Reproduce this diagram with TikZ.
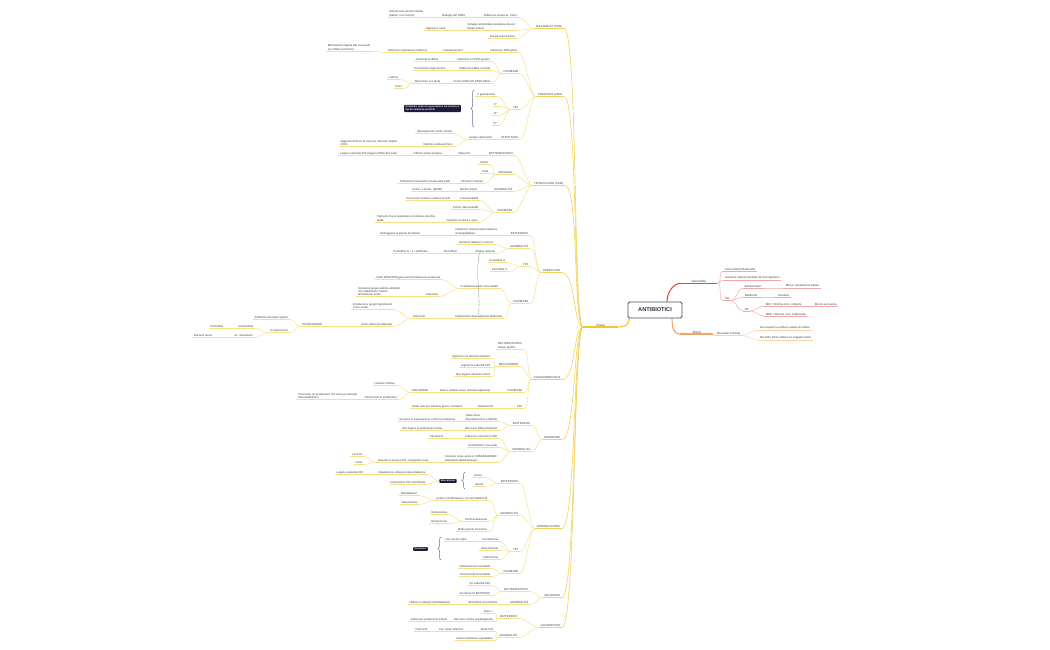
\documentclass[tikz,border=0pt]{standalone}
\usepackage{fontspec}
\setmainfont{Liberation Sans}
\usetikzlibrary{decorations.pathreplacing}
\definecolor{ylw}{HTML}{F6DF86}
\definecolor{ylwm}{HTML}{F3D25A}
\definecolor{ylwc}{HTML}{F2C62E}
\definecolor{txt}{HTML}{3A3A3A}
\definecolor{redm}{HTML}{E84545}
\definecolor{redl}{HTML}{F5A5A5}
\definecolor{orm}{HTML}{F2A65A}
\definecolor{orl}{HTML}{F9D2A6}
\definecolor{navy}{HTML}{1B1B3A}
\definecolor{bracec}{HTML}{6B6F8C}
\definecolor{rootc}{HTML}{4A4A60}
\definecolor{roott}{HTML}{2E2E48}
\newcommand\mmfs{\fontsize{2.8}{3.3}\selectfont}
\tikzset{
  ltxt/.style={inner xsep=1.6pt, inner ysep=0.6pt, font=\mmfs, text=txt, align=left},
  yl/.style={draw=ylw, line width=0.45pt},
  cl/.style={draw=ylwm, line width=0.6pt},
  rl/.style={draw=redl, line width=0.45pt},
  ol/.style={draw=orl, line width=0.45pt},
  callout/.style={fill=navy, rounded corners=0.8pt, text=white, font=\fontsize{2.4}{2.9}\selectfont\bfseries, inner xsep=1.5pt, inner ysep=1pt, align=left},
  bracest/.style={draw=bracec, line width=0.5pt, decorate, decoration={brace, amplitude=3pt}},
  rel/.style={draw=bracec, line width=0.45pt, dash pattern=on 1pt off 0.8pt},
  rootbox/.style={draw=rootc, line width=0.8pt, rounded corners=1.5pt, fill=white, minimum width=54pt, minimum height=16pt, inner sep=0pt, font=\fontsize{5.6}{6}\selectfont\bfseries, text=roott},
  mainlbl/.style={ltxt, font=\fontsize{3.1}{3.7}\selectfont, align=center}
}
% left node: name, parent, right end x, underline y, text
\newcommand\mmL[5]{%
  \node[ltxt,anchor=south east] (#1) at (#3,#4) {#5};
  \draw[yl] (#1.south west) -- (#1.south east);
  \draw[yl] (#2.south west) .. controls +(-6,0) and +(6,0) .. (#1.south east);}
% category node: name, right end x, underline y, text
\newcommand\mmC[4]{%
  \node[ltxt,anchor=south east] (#1) at (#2,#3) {#4};
  \draw[cl] (#1.south west) -- (#1.south east);
  \draw[cl] (classi.south west) .. controls +(-10,0) and +(14,0) .. (#1.south east);}
% right node: line style, name, parent, left x, underline y, text
\newcommand\mmR[6]{%
  \node[ltxt,anchor=south west] (#2) at (#4,#5) {#6};
  \draw[#1] (#2.south west) -- (#2.south east);
  \draw[#1] (#3.south east) .. controls +(5,0) and +(-5,0) .. (#2.south west);}
\begin{document}
\begin{tikzpicture}[x=1pt,y=-1pt]
\fill[white] (0,0) rectangle (1050,650);
\useasboundingbox (0,0) rectangle (1050,650);

% root and main branches
\node[rootbox] (root) at (655,310) {ANTIBIOTICI};
\node[mainlbl, anchor=south west, minimum width=35pt] (classi) at (583,327) {Classi};
\draw[ylwc, line width=1.1pt] (classi.south west) -- (classi.south east);
\draw[ylwc, line width=1.1pt] ([xshift=1.5pt]root.south west) .. controls +(0,7) and +(6,0) .. (classi.south east);

\node[mainlbl, anchor=south west, minimum width=37pt] (gen) at (680,283.5) {Generalità};
\draw[redm, line width=1.1pt] (gen.south west) -- (gen.south east);
\draw[redm, line width=1.1pt] ([xshift=12pt]root.north) .. controls +(0,-10) and +(-6,0) .. (gen.south west);

\node[mainlbl, anchor=south west, minimum width=33pt] (storia) at (680,334) {Storia};
\draw[orm, line width=1.1pt] (storia.south west) -- (storia.south east);
\draw[orm, line width=1.1pt] ([xshift=17pt]root.south) .. controls +(0,10) and +(-6,0) .. (storia.south west);

% Generalita
\mmR{rl}{g1}{gen}{723}{271}{Cura infezioni Batteriche}
\mmR{rl}{g2}{gen}{723}{280}{Sostanze naturali prodotte da microrganismi}
\mmR{rl}{g3}{gen}{723}{300.5}{Tipi}
\mmR{rl}{g3a}{g3}{743}{288}{Batteriostatici}
\mmR{rl}{g3a1}{g3a}{784}{288}{Blocco riproduzione batteri}
\mmR{rl}{g3b}{g3}{743}{297}{Battericidi}
\mmR{rl}{g3b1}{g3b}{776}{297}{Uccidono}
\mmR{rl}{g3c}{g3}{743}{311}{Nb}
\mmR{rl}{g3c1}{g3c}{764}{306}{MIC = Minima conc. inibente}
\mmR{rl}{g3c1a}{g3c1}{813}{306}{Blocca la crescita}
\mmR{rl}{g3c2}{g3c}{764}{316}{MBC = Minima conc. battericida}

% Storia
\mmR{ol}{fl}{storia}{715}{335.5}{Alexander Fleming}
\mmR{ol}{s1}{fl}{758}{330}{Ha scoperto la muffa in piastre di colture}
\mmR{ol}{s2}{fl}{758}{340}{Nel 1941 Primo utilizzo su soggetti umani}

% ---- Cat 1
\mmC{c1}{564}{28.5}{SULFAMIDICI (1935)}
\mmL{c1a}{c1}{519}{17.5}{Inibiscono sintesi ac. folico}
\mmL{c1a1}{c1a}{467}{17.5}{Analoghi del PABA}
\mmL{c1a1a}{c1a1}{425}{17.5}{Sintetizzano da soli il folato\\(batteri, non l'uomo)}
\mmL{c1b}{c1}{517}{30.5}{Sviluppo ambientale resistenza da uso\\troppo esteso}
\mmL{c1b1}{c1b}{447}{30.5}{Oggi poco usati}
\mmL{c1c}{c1}{517}{38.5}{Durata azione breve}

% ---- Cat 2
\mmC{c2}{564}{96.5}{CHINOLONI (1962)}
\mmL{c2a}{c2}{519}{52.5}{Inibiscono DNA girasi}
\mmL{c2a1}{c2a}{465}{52.5}{topoisomerasi II}
\mmL{c2a1a}{c2a1}{429}{52.5}{Inibizione replicazione batterica}
\mmL{c2a1a1}{c2a1a}{372}{51.5}{Eliminazione legata alla via renale\\(no effetto sull'uomo)}
\mmL{c2b}{c2}{520}{73.5}{PROBLEMI}
\mmL{c2b1}{c2b}{492}{61.5}{Inibizione CYP450 epatico}
\mmL{c2b1a}{c2b1}{440}{61.5}{Aumenta teofillina}
\mmL{c2b2}{c2b}{492}{70.5}{Inibizione GABA centrale}
\mmL{c2b2a}{c2b2}{447}{70.5}{Convulsioni negli anziani}
\mmL{c2b3}{c2b}{492}{83.5}{Forme CHELATI INSOLUBILI}
\mmL{c2b3a}{c2b3}{442}{83.5}{Attenzione con dieta}
\mmL{c2b3a1}{c2b3a}{400}{79.5}{Latticini}
\mmL{c2b3a2}{c2b3a}{404}{88.5}{Ferro}
\mmL{c2c}{c2}{520}{109.5}{TIPI}
\mmL{c2c1}{c2c}{497}{96.5}{I° generazione}
\mmL{c2c2}{c2c}{499}{106.5}{II°}
\mmL{c2c3}{c2c}{499}{115.5}{III°}
\mmL{c2c4}{c2c}{499}{125.5}{IV°}
\draw[bracest] (474,127) -- (474,90);
\node[callout] (cb1) at (432.5,108.5) {Antibiotici usati con generazione successiva ai\\tipi di resistenza possibili};
\mmL{c2d}{c2}{520}{139.5}{STRUTTURA}
\mmL{c2d1}{c2d}{494}{139.5}{Gruppi carbossilici}
\mmL{c2d1a}{c2d1}{454}{133.5}{Spiazzamento COO- (acido)}
\mmL{c2d1b}{c2d1}{455}{146.5}{Cambio sostituenti funz.}
\mmL{c2d1b1}{c2d1b}{399}{146.5}{Aggiunta di fluoro al ciclo per ottenere migliori\\COO-}

% ---- Cat 3
\mmC{c3}{565}{185.5}{TETRACICLINE (1948)}
\mmL{c3a}{c3}{515}{155.5}{BATTERIOSTATICI}
\mmL{c3a1}{c3a}{472}{155.5}{Ribosomi}
\mmL{c3a2}{c3a1}{444}{155.5}{Inibitori sintesi proteica}
\mmL{c3a3}{c3a2}{399}{155.5}{Legano subunità 30S (legame tRNA bloccato)}
\mmL{c3b}{c3}{514}{174.5}{VANTAGGI}
\mmL{c3b1}{c3b}{490}{164.5}{Ampio}
\mmL{c3b2}{c3b}{490}{173.5}{Orali}
\mmL{c3b3}{c3b}{485}{183.5}{Infezioni Cutanee}
\mmL{c3b3a}{c3b3}{452}{183.5}{Trattamento tetracicline locale nella pelle}
\mmL{c3c}{c3}{514}{191.5}{GENERALITÀ}
\mmL{c3c1}{c3c}{479}{191.5}{Spettro ampio}
\mmL{c3c1a}{c3c1}{444}{191.5}{Gram+ e Gram- (BASE)}
\mmL{c3d}{c3}{514}{212.5}{PROBLEMI}
\mmL{c3d1}{c3d}{480}{200.5}{Fotosensibilità}
\mmL{c3d1a}{c3d1}{452}{200.5}{Provocano reazioni cutanee al sole}
\mmL{c3d2}{c3d}{480}{209.5}{Forme Sali insolubili}
\mmL{c3d3}{c3d}{479}{222.5}{Deposito su denti e ossa}
\mmL{c3d3a}{c3d3}{437}{222.5}{Pigmenti che si depositano e formano macchie\\gialle}

% ---- Cat 4
\mmC{c4}{562}{272.5}{PENICILLINE}
\mmL{c4a}{c4}{530}{235.5}{BATTERICIDI}
\mmL{c4a1}{c4a}{499}{235.5}{Inibiscono sintesi parete batterica\\(transpeptidasi)}
\mmL{c4a1a}{c4a1}{422}{235.5}{Distruggono la parete dei batteri}
\mmL{c4b}{c4}{530}{248.5}{GENERALITÀ}
\mmL{c4b1}{c4b}{495}{244.5}{Nucleo β-lattamico comune}
\mmL{c4b2}{c4b}{497}{253.5}{Origine naturale}
\mmL{c4b2a}{c4b2}{459}{253.5}{Penicillium}
\mmL{c4b2a1}{c4b2a}{430}{253.5}{Penicillina G = 1° antibiotico}
\mmL{c4c}{c4}{530}{266.5}{TIPI}
\mmL{c4c1}{c4c}{507}{262.5}{Penicillina G}
\mmL{c4c2}{c4c}{509}{271.5}{Penicillina V}
\mmL{c4d}{c4}{530}{303.5}{PROBLEMI}
\mmL{c4d1}{c4d}{500}{288.5}{In ambiente acido sono inattivi}
\mmL{c4d1a}{c4d1}{442}{279.5}{Nelle INFEZIONI gravi somministrazione endovena}
\mmL{c4d1b}{c4d1}{440}{296.5}{Soluzione}
\mmL{c4d1b1}{c4d1b}{402}{296.5}{Introdurre gruppi elettron-attrattori\\che stabilizzano l'anello\\all'ambiente acido}
\mmL{c4d2}{c4d}{504}{318.5}{Inattivazione da β-lattamasi batteriche}
\mmL{c4d2a}{c4d2}{427}{318.5}{Soluzione}
\mmL{c4d2a1}{c4d2a}{394}{309.5}{Introduzione gruppi ingombranti\\come scudo}
\mmL{c4d2a2}{c4d2a}{394}{326.5}{Unire inibitori β-lattamasi}
\mmL{c4d2a2a}{c4d2a2}{324}{326.5}{ASSOCIAZIONI}
\mmL{c4d2a2a1}{c4d2a2a}{290}{319.5}{Antibiotici ad ampio spettro}
\mmL{c4d2a2a2}{c4d2a2a}{290}{332.5}{Composizione}
\mmL{c4d2a2a2a}{c4d2a2a2}{255}{328.5}{amoxicillina}
\mmL{c4d2a2a2a1}{c4d2a2a2a}{225}{328.5}{Penicillina}
\mmL{c4d2a2a2b}{c4d2a2a2}{255}{337.5}{ac. clavulanico}
\mmL{c4d2a2a2b1}{c4d2a2a2b}{214}{337.5}{Infezioni aeree}
\draw[rel] ([xshift=-6pt]c4b2.south) .. controls +(-4,25) and +(2,-25) .. (c4d2.north);

% ---- Cat 5
\mmC{c5}{562}{379.5}{CLORAMFENICOLO}
\mmL{c5a}{c5}{524}{349.5}{BATTERIOSTATICI\\Ampio spettro}
\mmL{c5b}{c5}{520}{366.5}{MECCANISMO}
\mmL{c5b1}{c5b}{492}{358.5}{Agiscono sui ribosomi batterici}
\mmL{c5b2}{c5b}{492}{367.5}{Legano la subunità 50S}
\mmL{c5b3}{c5b}{492}{376.5}{Non legano ribosomi umani}
\mmL{c5c}{c5}{524}{392.5}{PROBLEMI}
\mmL{c5c1}{c5c}{492}{392.5}{Danno midollo osseo (Anemia aplastica)}
\mmL{c5c1a}{c5c1}{430}{392.5}{SOLUZIONE}
\mmL{c5c1a1}{c5c1a}{397}{385.5}{Limitare l'utilizzo}
\mmL{c5c1a2}{c5c1a}{399}{399.5}{Trasformato in profarmaco}
\mmL{c5c1a2a}{c5c1a2}{359}{399.5}{Si assume un profarmaco che viene poi attivato\\dal metabolismo}
\mmL{c5d}{c5}{524}{408.5}{TIPI}
\mmL{c5d1}{c5d}{495}{408.5}{Tiamfenicolo}
\mmL{c5d1a}{c5d1}{464}{408.5}{Usato solo per infezioni gravi e resistenti}

% ---- Cat 6
\mmC{c6}{562}{439.5}{RIFAMICINE}
\mmL{c6a}{c6}{532}{425.5}{BATTERICIDI}
\mmL{c6a1}{c6a}{499}{421.5}{Tubercolosi\\(Mycobacterium e lebbra)}
\mmL{c6a1a}{c6a1}{457}{421.5}{Si usano in associazione contro la resistenza}
\mmL{c6a2}{c6a}{499}{430.5}{Bloccano RNA polimerasi}
\mmL{c6a2a}{c6a2}{444}{430.5}{Non legano la polimerasi umana}
\mmL{c6b}{c6}{532}{451.5}{GENERALITÀ}
\mmL{c6b1}{c6b}{499}{438.5}{Inducono citocromo P450}
\mmL{c6b1a}{c6b1}{445}{438.5}{Interazioni}
\mmL{c6b2}{c6b}{499}{447.5}{Semisintetici, uso orale}
\mmL{c6b3}{c6b}{499}{462.5}{Colorano rosso-arancio CONSEGUENZE:\\alterazione liquidi biologici}
\mmL{c6b3a}{c6b3}{430}{462.5}{Quando si assume P.S. compaiono rossi}
\mmL{c6b3a1}{c6b3a}{364}{456.5}{Lacrime}
\mmL{c6b3a2}{c6b3a}{364}{464.5}{Urine}

% ---- Cat 7
\mmC{c7}{562}{528.5}{AMINOGLICOSIDI}
\mmL{c7a}{c7}{520}{483.5}{BATTERICIDI}
\mmL{c7a1}{c7a}{485}{477.5}{Gram -}
\mmL{c7a2}{c7a}{485}{486.5}{Aerobi}
\draw[bracest] (465,489) -- (465,472);
\node[callout] (cb2) at (448,481) {Meccanismo};
\node[ltxt,anchor=south east] (c7m1) at (427,474.5) {Impediscono sintesi proteica batterica};
\draw[yl] (c7m1.south west) -- (c7m1.south east);
\draw[yl] (cb2.west) .. controls +(-5,0) and +(5,0) .. (c7m1.south east);
\mmL{c7m1a}{c7m1}{365}{474.5}{Legano subunità 30S}
\node[ltxt,anchor=south east] (c7m2) at (427,484.5) {Formazione Pori membrana};
\draw[yl] (c7m2.south west) -- (c7m2.south east);
\draw[yl] (cb2.west) .. controls +(-5,0) and +(5,0) .. (c7m2.south east);
\mmL{c7b}{c7}{520}{515.5}{GENERALITÀ}
\mmL{c7b1}{c7b}{489}{500.5}{Usati in combinazione con altri battericidi}
\mmL{c7b1a}{c7b1}{419}{495.5}{Betalattamici}
\mmL{c7b1b}{c7b1}{419}{504.5}{Vancomicina}
\mmL{c7b2}{c7b}{489}{521.5}{Somministrazione}
\mmL{c7b2a}{c7b2}{449}{514.5}{Endovenosa}
\mmL{c7b2b}{c7b2}{449}{523.5}{Intramuscolo}
\mmL{c7b3}{c7b}{489}{531.5}{Molto potenti ma tossici}
\mmL{c7c}{c7}{520}{551.5}{TIPI}
\mmL{c7c1}{c7c}{500}{541.5}{Gentamicina}
\mmL{c7c1a}{c7c1}{469}{541.5}{Uso anche topico}
\mmL{c7c2}{c7c}{500}{550.5}{Streptomicina}
\mmL{c7c3}{c7c}{500}{559.5}{Tobramicina}
\draw[bracest] (441,560) -- (441,537);
\node[callout] (cb3) at (420.5,549) {Ototossici};
\mmL{c7d}{c7}{520}{573.5}{PROBLEMI}
\mmL{c7d1}{c7d}{492}{568.5}{Nefrotossicità reversibile}
\mmL{c7d2}{c7d}{492}{576.5}{Ototossicità irreversibile}

% ---- Cat 8
\mmC{c8}{562}{597.5}{MACROLIDI}
\mmL{c8a}{c8}{530}{591.5}{BATTERIOSTATICI}
\mmL{c8a1}{c8a}{492}{585.5}{Su subunità 50S}
\mmL{c8a2}{c8a}{492}{595.5}{Sui ribosomi BATTERICI}
\mmL{c8b}{c8}{530}{604.5}{GENERALITÀ}
\mmL{c8b1}{c8b}{499}{604.5}{Alternativa a Penicillina}
\mmL{c8b1a}{c8b1}{452}{604.5}{Utilizzo in allergici (betalattamici)}

% ---- Cat 9
\mmC{c9}{562}{627.5}{GLICOPEPTIDI}
\mmL{c9a}{c9}{519}{618.5}{BATTERICIDI}
\mmL{c9a1}{c9a}{495}{613.5}{Gram +}
\mmL{c9a2}{c9a}{495}{621.5}{Bloccano sintesi peptidoglicano}
\mmL{c9a2a}{c9a2}{449}{621.5}{Inibiscono produzione Parete}
\mmL{c9b}{c9}{519}{637.5}{GENERALITÀ}
\mmL{c9b1}{c9b}{495}{631.5}{Molto forti}
\mmL{c9b1a}{c9b1}{465}{631.5}{Tox: Gravi Infezioni}
\mmL{c9b1a1}{c9b1a}{429}{631.5}{Polmoniti}
\mmL{c9b2}{c9b}{495}{640.5}{Usati in ambiente ospedaliero}
\end{tikzpicture}
\end{document}
